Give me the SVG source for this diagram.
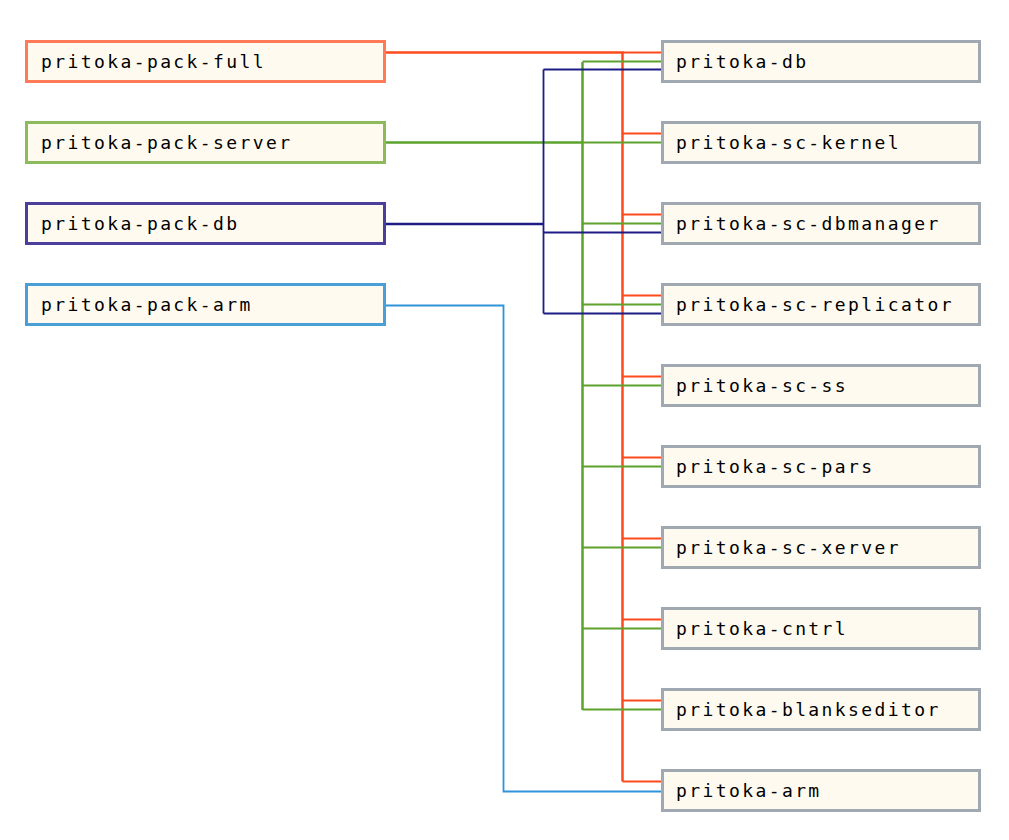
<svg xmlns="http://www.w3.org/2000/svg" width="1009" height="840" viewBox="0 0 1009 840">
<style>
.box{fill:#FFFAEF;stroke-width:3}
.l{font-family:"DejaVu Sans Mono","Liberation Mono",monospace;font-size:18px;letter-spacing:2.4px;fill:#000}
.r{stroke:#A0A8B2}
.c{fill:none}
.red{stroke:#FF4A1C}
.grn{stroke:#5EA22E}
.nav{stroke:#1C1C84}
.blu{stroke:#2E94DA}
.main{stroke-width:2.5}
.br{stroke-width:1.8}
</style>
<rect width="1009" height="840" fill="#fff"/>
<g id="connectors" class="c">
<g class="red">
<path class="main" d="M384,52.5H622.5V781.5"/>
<path class="br" d="M622.5,52.5H662M622.5,133.5H662M622.5,214.5H662M622.5,295.5H662M622.5,376.5H662M622.5,457.5H662M622.5,538.5H662M622.5,619.5H662M622.5,700.5H662M622.5,781.5H662"/>
</g>
<g class="grn">
<path class="main" d="M384,142.5H582.5M582.5,62V710"/>
<path class="br" d="M582.5,61.5H662M582.5,142.5H662M582.5,223.5H662M582.5,304.5H662M582.5,385.5H662M582.5,466.5H662M582.5,547.5H662M582.5,628.5H662M582.5,709.5H662"/>
</g>
<g class="nav">
<path class="main" d="M384,224H543"/>
<path class="br" d="M543.5,69.5V313.5M543.5,69.5H662M543.5,232.5H662M543.5,313.5H662"/>
</g>
<g class="blu">
<path class="br" d="M384,305.5H503.5V791.5H662"/>
</g>
</g>
<g id="pritoka-pack-full"><rect class="box" x="26.5" y="41.5" width="358" height="40" stroke="#FF7A58"/><text class="l" x="41" y="68">pritoka-pack-full</text></g>
<g id="pritoka-pack-server"><rect class="box" x="26.5" y="122.5" width="358" height="40" stroke="#8CBA5C"/><text class="l" x="41" y="149">pritoka-pack-server</text></g>
<g id="pritoka-pack-db"><rect class="box" x="26.5" y="203.5" width="358" height="40" stroke="#4A409C"/><text class="l" x="41" y="230">pritoka-pack-db</text></g>
<g id="pritoka-pack-arm"><rect class="box" x="26.5" y="284.5" width="358" height="40" stroke="#4AA0D6"/><text class="l" x="41" y="311">pritoka-pack-arm</text></g>
<g id="pritoka-db"><rect class="box r" x="662.5" y="41.5" width="317" height="40"/><text class="l" x="676" y="68">pritoka-db</text></g>
<g id="pritoka-sc-kernel"><rect class="box r" x="662.5" y="122.5" width="317" height="40"/><text class="l" x="676" y="149">pritoka-sc-kernel</text></g>
<g id="pritoka-sc-dbmanager"><rect class="box r" x="662.5" y="203.5" width="317" height="40"/><text class="l" x="676" y="230">pritoka-sc-dbmanager</text></g>
<g id="pritoka-sc-replicator"><rect class="box r" x="662.5" y="284.5" width="317" height="40"/><text class="l" x="676" y="311">pritoka-sc-replicator</text></g>
<g id="pritoka-sc-ss"><rect class="box r" x="662.5" y="365.5" width="317" height="40"/><text class="l" x="676" y="392">pritoka-sc-ss</text></g>
<g id="pritoka-sc-pars"><rect class="box r" x="662.5" y="446.5" width="317" height="40"/><text class="l" x="676" y="473">pritoka-sc-pars</text></g>
<g id="pritoka-sc-xerver"><rect class="box r" x="662.5" y="527.5" width="317" height="40"/><text class="l" x="676" y="554">pritoka-sc-xerver</text></g>
<g id="pritoka-cntrl"><rect class="box r" x="662.5" y="608.5" width="317" height="40"/><text class="l" x="676" y="635">pritoka-cntrl</text></g>
<g id="pritoka-blankseditor"><rect class="box r" x="662.5" y="689.5" width="317" height="40"/><text class="l" x="676" y="716">pritoka-blankseditor</text></g>
<g id="pritoka-arm"><rect class="box r" x="662.5" y="770.5" width="317" height="40"/><text class="l" x="676" y="797">pritoka-arm</text></g>
</svg>
